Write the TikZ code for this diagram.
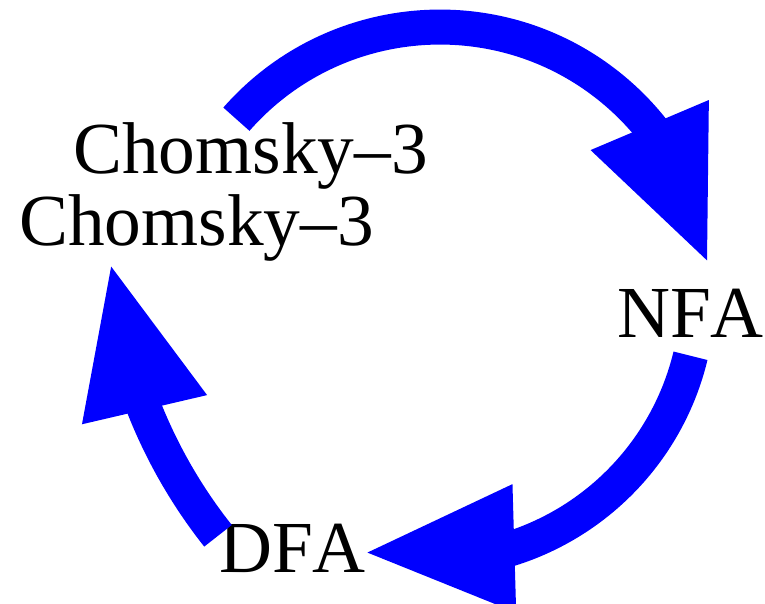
\documentclass[tikz,border=0pt]{standalone}
\usepackage{fontspec}
\setmainfont{Liberation Serif}[Kerning=Off]
\usetikzlibrary{arrows.meta, bending}
\tikzset{
  cycarrow/.style={blue, line width=26.25pt,
    -{Triangle[length=114pt, width=87.75pt, flex]}},
  lbl/.style={inner sep=0pt, anchor=base west, font=\fontsize{55}{60}\selectfont}
}
\begin{document}
\begin{tikzpicture}[x=0.75pt, y=0.75pt]
\useasboundingbox (0,0) rectangle (765,604);

\node[lbl] (chomskyA) at (73,430) {Chomsky–3};
\node[lbl] (chomskyB) at (19,358.5) {Chomsky–3};
\node[lbl] (nfa) at (617,266) {NFA};
\node[lbl] (dfa) at (219,31) {DFA};

\coordinate (topstart) at (236.4,484.8);
\coordinate (rightstart) at (690.5,248.2);
\coordinate (leftstart) at (218,68.2);

\draw[cycarrow] (topstart) arc[start angle=138.7, end angle=7.0, radius=271];
\draw[cycarrow] (rightstart) arc[start angle=-13.56, end angle=-104.5, radius=268.4];
\draw[cycarrow] (leftstart) arc[start angle=218.4, end angle=184.6, radius=506.8];

\end{tikzpicture}
\end{document}
